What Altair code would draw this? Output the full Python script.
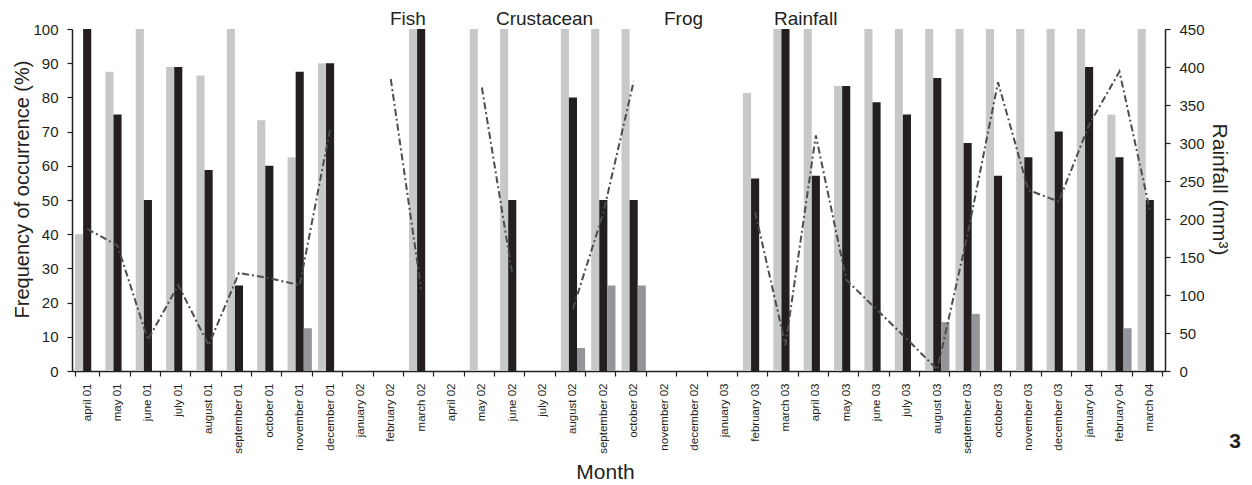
import altair as alt
import pandas as pd

months = ["april 01", "may 01", "june 01", "july 01", "august 01", "september 01",
          "october 01", "november 01", "december 01", "january 02", "february 02",
          "march 02", "april 02", "may 02", "june 02", "july 02", "august 02",
          "september 02", "october 02", "november 02", "december 02", "january 03",
          "february 03", "march 03", "april 03", "may 03", "june 03", "july 03",
          "august 03", "september 03", "october 03", "november 03", "december 03",
          "january 04", "february 04", "march 04"]

fish = [40, 87.5, 100, 88.9, 86.4, 100, 73.3, 62.5, 90, None, None, 100, None, 100,
        100, None, 100, 100, 100, None, None, None, 81.3, 100, 100, 83.3, 100, 100,
        100, 100, 100, 100, 100, 100, 75, 100]
crustacean = [100, 75, 50, 88.9, 58.8, 25, 60, 87.5, 90, None, None, 100, None, 0,
              50, None, 80, 50, 50, None, None, None, 56.3, 100, 57.1, 83.3, 78.6, 75,
              85.7, 66.7, 57.1, 62.5, 70, 88.9, 62.5, 50]
frog = [0, 0, 0, 0, 0, 0, 0, 12.5, 0, None, None, 0, None, 0, 0, None, 6.7, 25, 25,
        None, None, None, 0, 0, 0, 0, 0, 0, 14.3, 16.7, 0, 0, 0, 0, 12.5, 0]
rainfall = [187, 165, 41, 113, 34, 129, 122, 113, 318, None, 384, 108, None, 373, 128,
            None, 82, 208, 381, None, None, None, 209, 34, 310, 120, 81, 42, 2, 180,
            380, 238, 223, 324, 394, 212]

series = ["Fish", "Crustacean", "Frog", "Rainfall"]
colors = ["#c7c8ca", "#231f20", "#939598", "#4d4d4d"]

rows = []
for name, vals in [("Fish", fish), ("Crustacean", crustacean), ("Frog", frog)]:
    for m, v in zip(months, vals):
        rows.append({"month": m, "species": name, "value": v})
bars_df = pd.DataFrame(rows)
rain_df = pd.DataFrame({"month": months, "rain": rainfall, "species": "Rainfall"})

FONT = "Liberation Sans"

color_scale = alt.Scale(domain=series, range=colors)

x_enc = alt.X("month:N", sort=months,
              scale=alt.Scale(paddingInner=0.2, paddingOuter=0.1),
              axis=alt.Axis(title="Month", labelAngle=-90, labelFontSize=11.5,
                            tickBand="extent", tickSize=5, labelPadding=7,
                            titleFontSize=21, titlePadding=8, titleX=533,
                            titleFontWeight="normal"))

legend = alt.Legend(title=None, orient="none", direction="horizontal",
                    legendX=299, legendY=-20, labelFontSize=19,
                    symbolSize=0, symbolOpacity=0,
                    symbolStrokeWidth=0, labelOffset=0,
                    columnPadding=51, labelFont=FONT)

bars = alt.Chart(bars_df).mark_bar().encode(
    x=x_enc,
    xOffset=alt.XOffset("species:N", sort=["Fish", "Crustacean", "Frog"],
                        scale=alt.Scale(paddingInner=0, paddingOuter=0)),
    y=alt.Y("value:Q", scale=alt.Scale(domain=[0, 100], nice=False),
            axis=alt.Axis(title="Frequency of occurrence (%)",
                          values=list(range(0, 101, 10)), labelFontSize=15,
                          tickSize=5, labelPadding=9, grid=False,
                          titleFontSize=20, titleX=-40, titleY=160,
                          titleFontWeight="normal")),
    color=alt.Color("species:N", scale=color_scale, legend=legend),
)

line = alt.Chart(rain_df).mark_line(
    strokeDash=[7, 3, 2, 3], strokeWidth=2,
    invalid="break-paths-show-domains"
).encode(
    x=alt.X("month:N", sort=months),
    y=alt.Y("rain:Q", scale=alt.Scale(domain=[0, 450], nice=False),
            axis=alt.Axis(title="Rainfall (mm³)", orient="right",
                          values=list(range(0, 451, 50)), labelFontSize=15,
                          tickSize=5, labelPadding=9, grid=False,
                          titleFontSize=21, titlePadding=4, titleY=160,
                          titleFontWeight="normal")),
    color=alt.Color("species:N", scale=color_scale, legend=legend),
)

tag = alt.Chart(pd.DataFrame({"t": ["3"]})).mark_text(
    fontSize=21, fontWeight="bold", font=FONT, color="#231f20"
).encode(text="t:N", x=alt.value(1163), y=alt.value(413))

chart = alt.layer(bars, line, tag).resolve_scale(y="independent").properties(
    width=1093, height=342,
    autosize=alt.AutoSizeParams(type="none"),
    padding={"left": 64, "top": 21, "right": 79, "bottom": 112},
).configure_axis(
    domainColor="#231f20", tickColor="#231f20", labelColor="#231f20",
    titleColor="#231f20", labelFont=FONT, titleFont=FONT, domainWidth=1.5,
    tickWidth=1.2,
).configure_legend(labelColor="#231f20").configure_view(stroke=None)

chart.save("out.html", embed_options={"renderer": "svg", "actions": False})
